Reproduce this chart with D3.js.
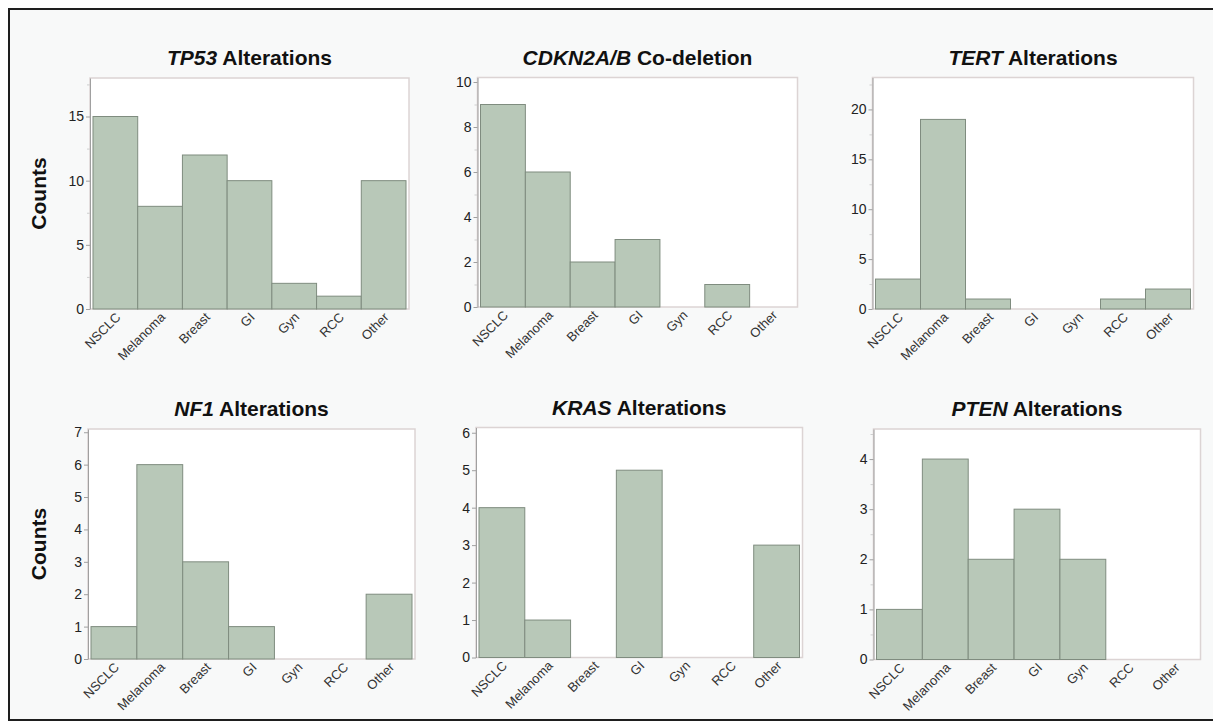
<!DOCTYPE html>
<html>
<head>
<meta charset="utf-8">
<script src="https://cdn.jsdelivr.net/npm/d3@7"></script>
<style>
  html, body { margin: 0; padding: 0; background: #ffffff; }
  svg { display: block; }
  text { font-family: "Liberation Sans", Arial, Helvetica, sans-serif; }
</style>
</head>
<body>
<svg id="chart" width="1213" height="722"></svg>
<script>
// ---------------- DATA ----------------
const categories = ["NSCLC", "Melanoma", "Breast", "GI", "Gyn", "RCC", "Other"];

const geneNames = ["TP53", "CDKN2A/B", "TERT", "NF1", "KRAS", "PTEN"];
const titleSuffixes = [" Alterations", " Co-deletion", " Alterations", " Alterations", " Alterations", " Alterations"];

const tp53Counts    = [15, 8, 12, 10, 2, 1, 10];
const cdkn2abCounts = [9, 6, 2, 3, 0, 1, 0];
const tertCounts    = [3, 19, 1, 0, 0, 1, 2];
const nf1Counts     = [1, 6, 3, 1, 0, 0, 2];
const krasCounts    = [4, 1, 0, 5, 0, 0, 3];
const ptenCounts    = [1, 4, 2, 3, 2, 0, 0];
const seriesValues = [tp53Counts, cdkn2abCounts, tertCounts, nf1Counts, krasCounts, ptenCounts];

// y-axis domain maxima and tick labels per panel
const yMax = [18, 10.2, 23.2, 7.1, 6.14, 4.6];
const yTicks = [
  [0, 5, 10, 15],
  [0, 2, 4, 6, 8, 10],
  [0, 5, 10, 15, 20],
  [0, 1, 2, 3, 4, 5, 6, 7],
  [0, 1, 2, 3, 4, 5, 6],
  [0, 1, 2, 3, 4]
];
const yMinorTicks = [
  [2.5, 7.5, 12.5, 17.5],
  [1, 3, 5, 7, 9],
  [2.5, 7.5, 12.5, 17.5, 22.5],
  [],
  [],
  [0.5, 1.5, 2.5, 3.5, 4.5]
];
const yAxisTitle = "Counts";

// ---------------- LAYOUT (positions only) ----------------
const panelLayout = [
  { x0: 90,    x1: 409,    y0: 78,    y1: 309,   ylab: true },
  { x0: 477.5, x1: 797.5,  y0: 77.5,  y1: 307,   ylab: false },
  { x0: 872.5, x1: 1193.5, y0: 77.5,  y1: 309,   ylab: false },
  { x0: 88,    x1: 415,    y0: 429,   y1: 659,   ylab: true },
  { x0: 476,   x1: 802.5,  y0: 427.5, y1: 657.5, ylab: false },
  { x0: 873.5, x1: 1200.5, y0: 429,   y1: 659.5, ylab: false }
];

const barFill = "#b8c8b8";
const barStroke = "#7f8c7f";
const frameStroke = "#dcd4d4";

const svg = d3.select("#chart");

// figure background + border
svg.append("rect").attr("x", 0).attr("y", 0).attr("width", 1213).attr("height", 722).attr("fill", "#ffffff");
svg.append("rect")
  .attr("x", 9).attr("y", 9).attr("width", 1215).attr("height", 711)
  .attr("fill", "#f8f9f9").attr("stroke", "#1e1e1e").attr("stroke-width", 2);

panelLayout.forEach((L, i) => {
  const g = svg.append("g");
  const values = seriesValues[i];

  const x = d3.scaleBand().domain(categories).range([L.x0 + 3, L.x1 - 3]).padding(0);
  const y = d3.scaleLinear().domain([0, yMax[i]]).range([L.y1, L.y0]);

  // plot area
  g.append("rect")
    .attr("x", L.x0).attr("y", L.y0)
    .attr("width", L.x1 - L.x0).attr("height", L.y1 - L.y0)
    .attr("fill", "#ffffff").attr("stroke", frameStroke).attr("stroke-width", 1.5);

  // bars
  g.selectAll("rect.bar")
    .data(categories.map((c, k) => ({ c, v: values[k] })).filter(d => d.v > 0))
    .join("rect")
    .attr("class", "bar")
    .attr("x", d => x(d.c))
    .attr("y", d => y(d.v))
    .attr("width", x.bandwidth())
    .attr("height", d => y(0) - y(d.v))
    .attr("fill", barFill)
    .attr("stroke", barStroke)
    .attr("stroke-width", 1);

  // minor ticks
  g.append("g")
    .attr("transform", `translate(${L.x0},0)`)
    .call(d3.axisLeft(y).tickValues(yMinorTicks[i]).tickSize(3).tickFormat(""))
    .call(a => a.select(".domain").remove())
    .call(a => a.selectAll("line").attr("stroke", "#cfcfcf"));

  // y axis
  g.append("g")
    .attr("transform", `translate(${L.x0},0)`)
    .call(d3.axisLeft(y).tickValues(yTicks[i]).tickSize(4).tickPadding(2).tickFormat(d3.format("d")).tickSizeOuter(0))
    .call(a => a.select(".domain").attr("stroke", "#a0a0a0"))
    .call(a => a.selectAll(".tick line").attr("stroke", "#a0a0a0"))
    .call(a => a.selectAll(".tick text")
      .attr("font-size", 14).attr("fill", "#222").attr("font-family", "'Liberation Sans', Arial, sans-serif"));

  // x axis category labels
  const xa = g.append("g").attr("transform", `translate(0,${L.y1})`)
    .call(d3.axisBottom(x).tickSize(0).tickPadding(0));
  xa.select(".domain").remove();
  xa.selectAll(".tick text")
    .attr("font-size", 13)
    .attr("fill", "#333")
    .attr("font-family", "'Liberation Sans', Arial, sans-serif")
    .attr("text-anchor", "end")
    .attr("dy", null)
    .attr("y", 0)
    .attr("transform", "translate(6,9) rotate(-45)");

  // title
  const cx = (L.x0 + L.x1) / 2;
  const t = g.append("text")
    .attr("x", cx).attr("y", L.y0 - 13)
    .attr("text-anchor", "middle")
    .attr("font-size", 21)
    .attr("font-weight", "bold")
    .attr("fill", "#111");
  t.append("tspan").attr("font-style", "italic").text(geneNames[i]);
  t.append("tspan").text(titleSuffixes[i]);

  // y axis title
  if (L.ylab) {
    g.append("text")
      .attr("transform", `translate(46,${(L.y0 + L.y1) / 2}) rotate(-90)`)
      .attr("text-anchor", "middle")
      .attr("font-size", 21)
      .attr("font-weight", "bold")
      .attr("fill", "#111")
      .text(yAxisTitle);
  }
});
</script>
</body>
</html>
